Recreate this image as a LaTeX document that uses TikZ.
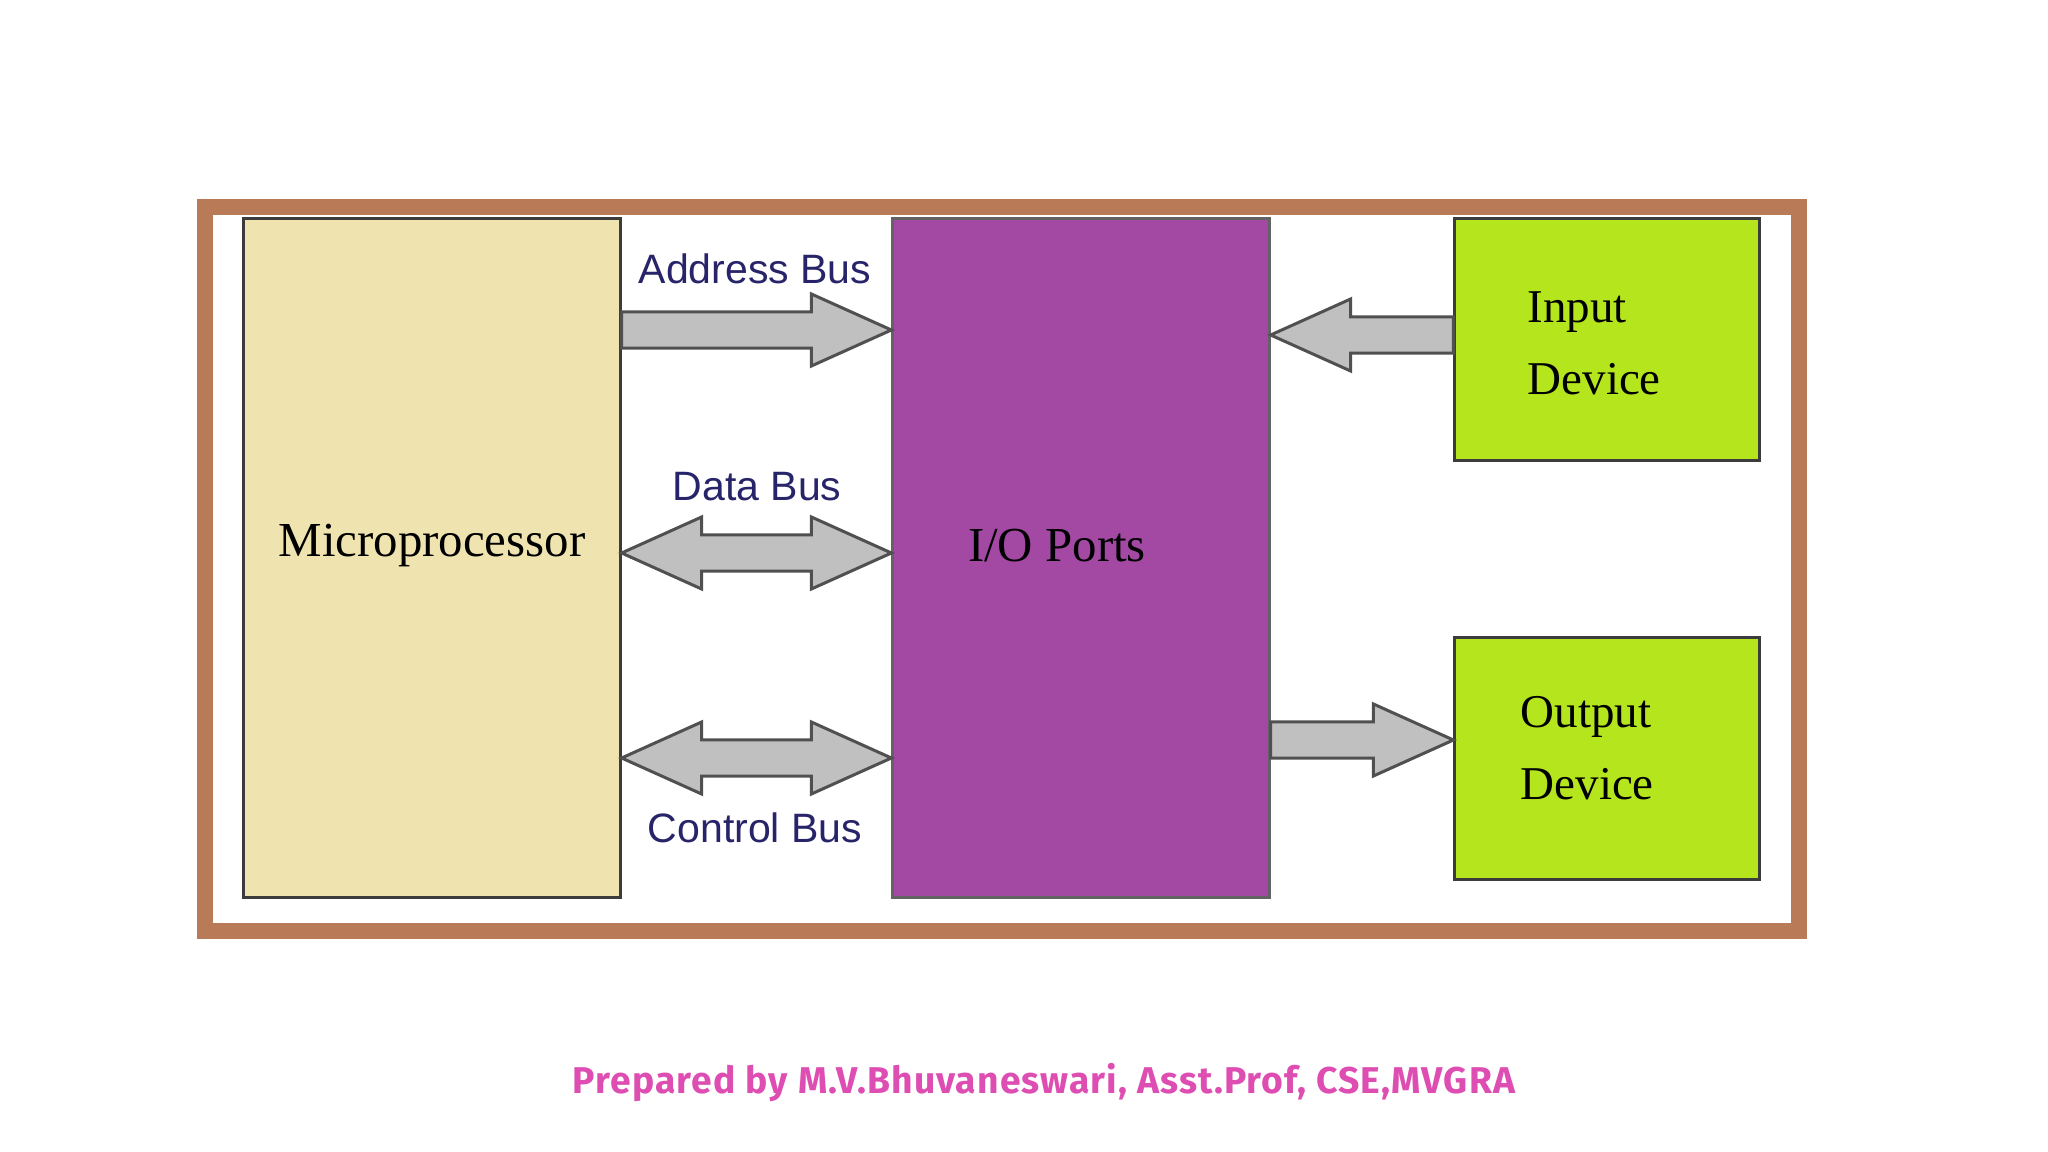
\documentclass[tikz,border=0pt]{standalone}
\usepackage{fontspec}
\setmainfont{Liberation Serif}
\newfontfamily\busfont{Liberation Sans}
\newfontfamily\notefont{Fira Sans}[LetterSpace=3]
\usetikzlibrary{calc}
\definecolor{framebrown}{RGB}{185,122,87}
\definecolor{cputan}{RGB}{239,228,176}
\definecolor{portpurple}{RGB}{163,73,164}
\definecolor{devlime}{RGB}{181,230,29}
\definecolor{busgray}{RGB}{192,192,192}
\definecolor{busline}{RGB}{80,80,80}
\definecolor{boxline}{RGB}{60,60,60}
\definecolor{lblblue}{RGB}{40,36,105}
\definecolor{notepink}{RGB}{222,78,178}
% bus arrow sizes
\newcommand\busw{0.18cm}
\newcommand\bushw{0.36cm}
\newcommand\bushl{0.8cm}
\begin{document}
\begin{tikzpicture}[x=0.01cm,y=-0.01cm,
  box/.style={draw=boxline, line width=0.03cm, inner sep=0pt},
  bus/.style={draw=busline, fill=busgray, line width=0.03cm},
  onehead/.style={to path={let \p1=(\tikztostart), \p2=(\tikztotarget), \n1={sign(\x2-\x1)} in
    (\x1,{\y1+\busw}) -- ({\x2-\n1*\bushl},{\y1+\busw}) -- ({\x2-\n1*\bushl},{\y1+\bushw}) -- (\x2,\y1)
    -- ({\x2-\n1*\bushl},{\y1-\bushw}) -- ({\x2-\n1*\bushl},{\y1-\busw}) -- (\x1,{\y1-\busw}) -- cycle}},
  twohead/.style={to path={let \p1=(\tikztostart), \p2=(\tikztotarget), \n1={sign(\x2-\x1)} in
    (\x1,\y1) -- ({\x1+\n1*\bushl},{\y1+\bushw}) -- ({\x1+\n1*\bushl},{\y1+\busw})
    -- ({\x2-\n1*\bushl},{\y1+\busw}) -- ({\x2-\n1*\bushl},{\y1+\bushw}) -- (\x2,\y1)
    -- ({\x2-\n1*\bushl},{\y1-\bushw}) -- ({\x2-\n1*\bushl},{\y1-\busw})
    -- ({\x1+\n1*\bushl},{\y1-\busw}) -- ({\x1+\n1*\bushl},{\y1-\bushw}) -- cycle}},
  buslbl/.style={font=\busfont\fontsize{11.67pt}{14pt}\selectfont, text=lblblue, inner sep=0pt},
  boxlbl/.style={font=\fontsize{13.9pt}{16pt}\selectfont, inner sep=0pt},
  devlbl/.style={font=\fontsize{13.37pt}{20.49pt}\selectfont, align=left, anchor=west, inner sep=0pt}]
  \fill[white] (0,0) rectangle (2048,1152);
  \useasboundingbox (0,0) rectangle (2048,1152);
  % frame
  \draw[framebrown, line width=0.16cm] (205,207) rectangle (1799,931);
  % blocks
  \node[box, fill=cputan, minimum width=3.76cm, minimum height=6.78cm] (mp) at (432,558) {};
  \node[box, draw=boxline!80, fill=portpurple, minimum width=3.76cm, minimum height=6.78cm] (io) at (1081,558) {};
  \node[box, fill=devlime, minimum width=3.04cm, minimum height=2.41cm] (in) at (1607,339.5) {};
  \node[box, fill=devlime, minimum width=3.04cm, minimum height=2.41cm] (out) at (1607,758.5) {};
  \node[boxlbl] (mplbl) at (432,546) {Microprocessor};
  \node[boxlbl] (iolbl) at (1057,546) {I/O Ports};
  \node[devlbl] (inlbl) at (1527,343) {Input\\Device};
  \node[devlbl] (outlbl) at (1520,748) {Output\\Device};
  % buses
  \coordinate (yaddr) at (0,330);
  \coordinate (ydata) at (0,553);
  \coordinate (yctrl) at (0,758);
  \coordinate (yin) at (0,335);
  \coordinate (yout) at (0,740);
  \draw[bus] (mp.east |- yaddr) to[onehead] (io.west |- yaddr);
  \draw[bus] (mp.east |- ydata) to[twohead] (io.west |- ydata);
  \draw[bus] (mp.east |- yctrl) to[twohead] (io.west |- yctrl);
  \draw[bus] (in.west |- yin) to[onehead] (io.east |- yin);
  \draw[bus] (io.east |- yout) to[onehead] (out.west |- yout);
  \node[buslbl] (addrlbl) at (755,269) {Address Bus};
  \node[buslbl] (datalbl) at (757,487) {Data Bus};
  \node[buslbl] (ctrllbl) at (755,828) {Control Bus};
  % footer
  \node[font=\notefont\bfseries\fontsize{10.6pt}{12pt}\selectfont, text=notepink] (note) at (1044,1083)
    {Prepared by M.V.Bhuvaneswari, Asst.Prof, CSE,MVGRA};
\end{tikzpicture}
\end{document}
